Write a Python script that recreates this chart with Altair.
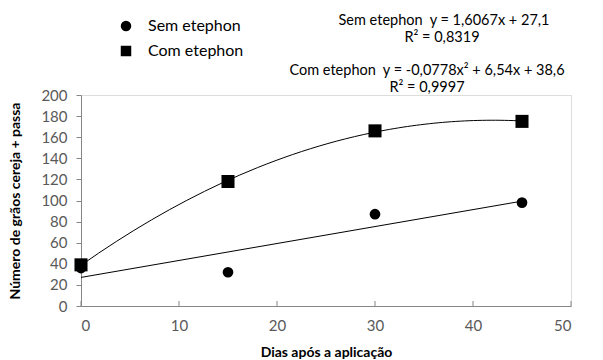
import altair as alt
import pandas as pd

dias = [0, 15, 30, 45]
sem_etephon = [36, 32, 87, 98]
com_etephon = [39, 118, 166, 175]
series_names = ["Sem etephon", "Com etephon"]
x_ticks = [0, 10, 20, 30, 40, 50]
y_ticks = [0, 20, 40, 60, 80, 100, 120, 140, 160, 180, 200]

NB = "\u00a0"
eq_sem = "Sem etephon" + NB + NB + "y = 1,6067x + 27,1"
r2_sem = "R² = 0,8319"
eq_com = "Com etephon" + NB + NB + "y = -0,0778x² + 6,54x + 38,6"
r2_com = "R² = 0,9997"

df = pd.DataFrame({
    "dias": dias * 2,
    "valor": sem_etephon + com_etephon,
    "serie": [series_names[0]] * 4 + [series_names[1]] * 4,
})
ticks_df = pd.DataFrame({"t": x_ticks})

FONT = "Lato"
W, H = 490, 211
GRAY = "#868686"
LBL = "#595959"

xscale = alt.Scale(domain=[0, 50], nice=False)
yscale = alt.Scale(domain=[0, 200], nice=False)

xaxis = alt.Axis(values=x_ticks, title="Dias após a aplicação", grid=False,
                 ticks=False, domainColor=GRAY, labelColor=LBL, labelFontSize=15,
                 labelPadding=12, labelOverlap=False, titleFontSize=14,
                 titleFontWeight="bold", titlePadding=12, titleColor="black")
yaxis = alt.Axis(values=y_ticks, title="Número de grãos cereja + passa", grid=False,
                 tickColor=GRAY, tickSize=5, domainColor=GRAY, labelColor=LBL,
                 labelFontSize=15, labelPadding=9, labelOverlap=False,
                 titleFontSize=14, titleFontWeight="bold", titlePadding=18,
                 titleColor="black")
X = alt.X("dias:Q", scale=xscale, axis=xaxis)
Y = alt.Y("valor:Q", scale=yscale, axis=yaxis)

base = alt.Chart(df)

points = base.mark_point(filled=True, opacity=1, color="black").encode(
    x=X, y=Y,
    shape=alt.Shape("serie:N",
                    scale=alt.Scale(domain=series_names, range=["circle", "square"]),
                    legend=alt.Legend(title=None, orient="none", legendX=37, legendY=-77,
                                      labelFontSize=16, labelColor="black", symbolSize=110,
                                      symbolFillColor="black", symbolStrokeColor="black",
                                      rowPadding=7, labelOffset=14)),
    size=alt.condition(alt.datum.serie == "Com etephon", alt.value(170), alt.value(115)),
)

reg_sem = base.transform_filter(alt.datum.serie == "Sem etephon").transform_regression(
    "dias", "valor", method="linear", extent=[0, 45]
).mark_line(color="black", strokeWidth=1).encode(x=X, y=Y)

reg_com = base.transform_filter(alt.datum.serie == "Com etephon").transform_regression(
    "dias", "valor", method="poly", order=2, extent=[0, 45]
).mark_line(color="black", strokeWidth=1).encode(x=X, y=Y)

xticks = alt.Chart(ticks_df).mark_rule(color=GRAY, strokeWidth=1).encode(
    x=alt.X("t:Q", scale=xscale, axis=xaxis), y=alt.value(H), y2=alt.value(H - 5))

def txt(s, x, y):
    return alt.Chart(pd.DataFrame({"s": [s]})).mark_text(
        font=FONT, fontSize=14.5, color="black", align="center", baseline="middle"
    ).encode(text="s:N", x=alt.value(x), y=alt.value(y))

texts = (txt(eq_sem, 363, -74) + txt(r2_sem, 361, -57)
         + txt(eq_com, 346, -24) + txt(r2_com, 346, -7))

chart = alt.layer(reg_sem, reg_com, xticks, points, texts).properties(
    width=W, height=H,
    autosize=alt.AutoSizeParams(type="none"),
    padding={"left": 81, "top": 95, "right": 32, "bottom": 54},
).configure_view(stroke=None).configure(font=FONT).configure_axis(labelOverlap=False)

chart.save("out.html", embed_options={"renderer": "svg", "actions": False})
